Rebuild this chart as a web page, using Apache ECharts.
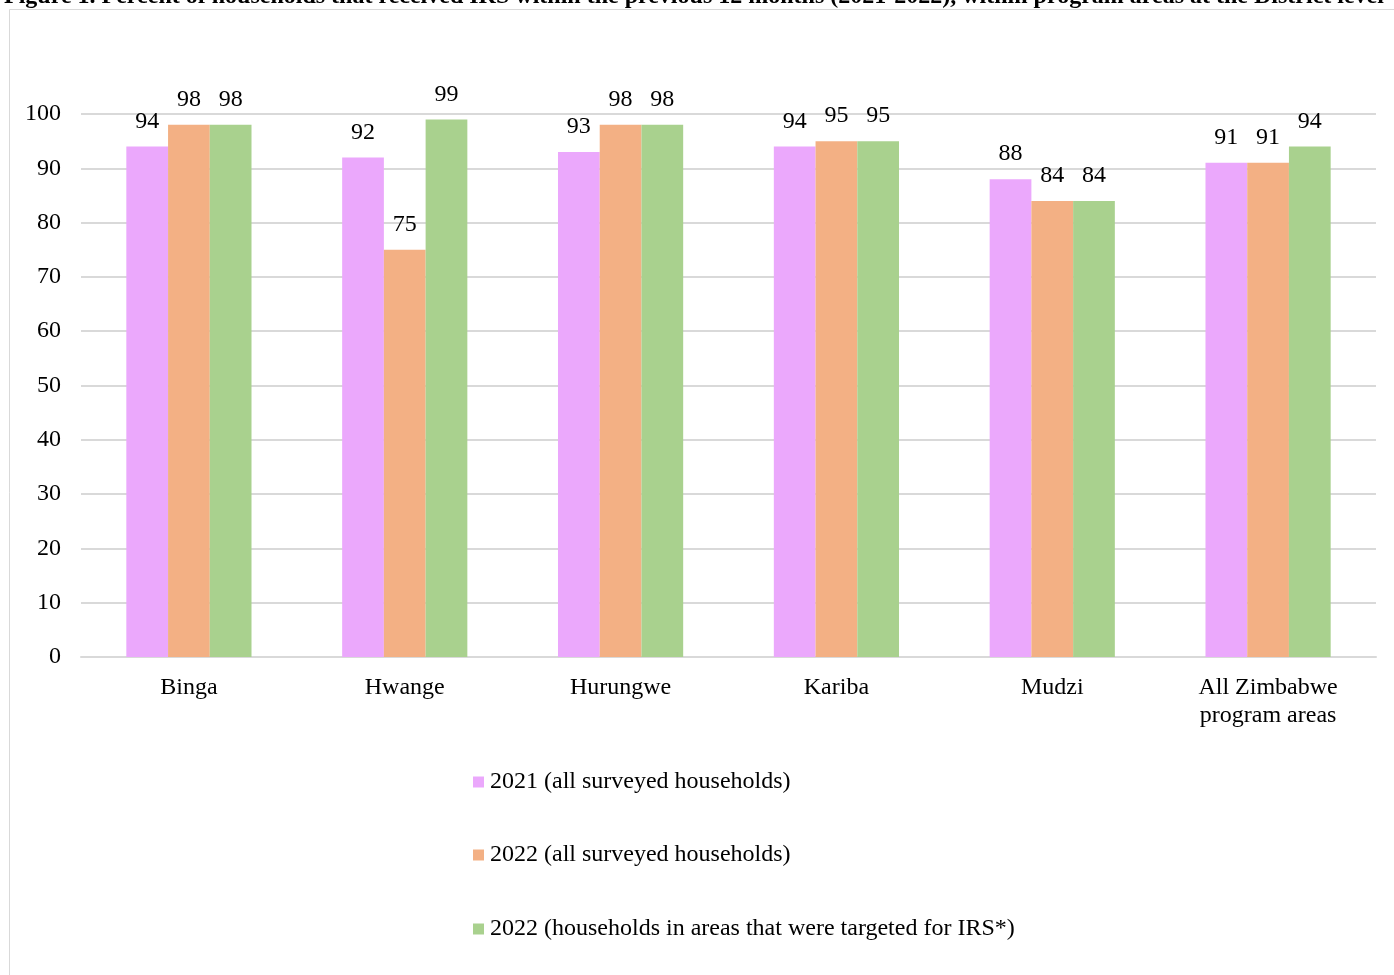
<!DOCTYPE html>
<html>
<head>
<meta charset="utf-8">
<script src="https://cdn.jsdelivr.net/npm/echarts@6/dist/echarts.min.js"></script>
<style>
  html, body { margin: 0; padding: 0; background: #fff; }
  #chart { width: 1394px; height: 975px; }
</style>
</head>
<body>
<div id="chart"></div>
<script>
// Districts shown on the category axis
const districts = ['Binga', 'Hwange', 'Hurungwe', 'Kariba', 'Mudzi', 'All Zimbabwe\nprogram areas'];

// Percent of households that received IRS
const hh2021All = [94, 92, 93, 94, 88, 91];
const hh2022All = [98, 75, 98, 95, 84, 91];
const hh2022Targeted = [98, 99, 98, 95, 84, 94];

const seriesNames = [
  '2021 (all surveyed households)',
  '2022 (all surveyed households)',
  '2022 (households in areas that were targeted for IRS*)'
];

const yTicks = { min: 0, max: 100, interval: 10 };

const titleText = 'Figure 1. Percent of households that received IRS within the previous 12 months (2021-2022), within program areas at the District level';

const FONT = '"Liberation Serif", "Times New Roman", serif';
const FS = 24;
const colors = ['#EBA8FC', '#F3B084', '#A9D18E'];

const chart = echarts.init(document.getElementById('chart'), null, { renderer: 'canvas' });

function barSeries(name, data, color) {
  return {
    name: name,
    type: 'bar',
    data: data,
    barGap: '0%',
    barCategoryGap: '42%',
    itemStyle: { color: color },
    label: {
      show: true,
      position: 'top',
      distance: 13,
      color: '#000',
      fontFamily: FONT,
      fontSize: FS
    }
  };
}

// vertical centres of the three legend rows
const legendCentres = [782, 855, 929];

chart.setOption({
  animation: false,
  backgroundColor: '#fff',
  textStyle: { fontFamily: FONT },
  graphic: [
    {
      type: 'rect',
      shape: { x: 9.5, y: 9.5, width: 1500, height: 1100 },
      style: { fill: 'none', stroke: '#d9d9d9', lineWidth: 1 },
      silent: true
    },
    {
      type: 'text',
      style: {
        x: 4,
        y: -3,
        text: titleText,
        font: 'bold 24px ' + FONT,
        fill: '#000',
        verticalAlign: 'middle'
      },
      silent: true
    }
  ],
  legend: seriesNames.map((n, i) => ({
    data: [n],
    left: 473,
    top: legendCentres[i] - 12,
    padding: 0,
    itemWidth: 11,
    itemHeight: 11,
    icon: 'rect',
    selectedMode: false,
    textStyle: { fontFamily: FONT, fontSize: FS, lineHeight: 24, color: '#000', padding: [0, 0, 0, 1] }
  })),
  grid: { left: 81, top: 114, width: 1295, height: 543, containLabel: false },
  xAxis: {
    type: 'category',
    data: districts,
    axisLine: { show: true, lineStyle: { color: '#d9d9d9', width: 2 } },
    axisTick: { show: false },
    axisLabel: {
      color: '#000',
      fontFamily: FONT,
      fontSize: FS,
      lineHeight: 28,
      margin: 17,
      interval: 0
    }
  },
  yAxis: {
    type: 'value',
    min: yTicks.min,
    max: yTicks.max,
    interval: yTicks.interval,
    axisLine: { show: false },
    axisTick: { show: false },
    splitLine: { lineStyle: { color: '#d9d9d9', width: 2 } },
    axisLabel: {
      color: '#000',
      fontFamily: FONT,
      fontSize: FS,
      margin: 20
    }
  },
  series: [
    barSeries(seriesNames[0], hh2021All, colors[0]),
    barSeries(seriesNames[1], hh2022All, colors[1]),
    barSeries(seriesNames[2], hh2022Targeted, colors[2])
  ]
});
</script>
</body>
</html>
